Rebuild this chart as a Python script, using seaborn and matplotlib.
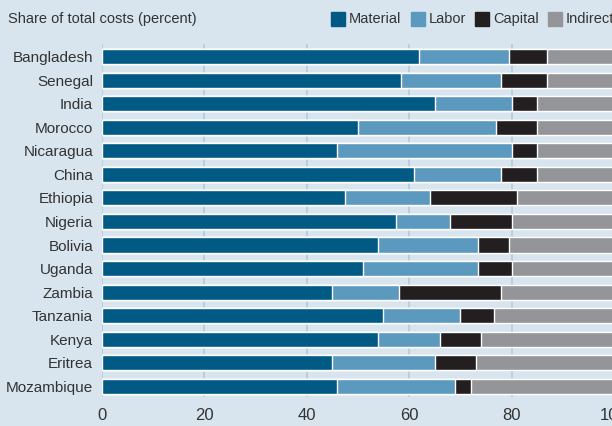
import matplotlib
matplotlib.use("Agg")
import matplotlib.pyplot as plt
from matplotlib.patches import Rectangle
import numpy as np
import seaborn as sns

countries = ["Bangladesh", "Senegal", "India", "Morocco", "Nicaragua", "China",
             "Ethiopia", "Nigeria", "Bolivia", "Uganda", "Zambia", "Tanzania",
             "Kenya", "Eritrea", "Mozambique"]
material = [62, 58.5, 65, 50, 46, 61, 47.5, 57.5, 54, 51, 45, 55, 54, 45, 46]
labor = [17.5, 19.5, 15, 27, 34, 17, 16.5, 10.5, 19.5, 22.5, 13, 15, 12, 20, 23]
capital = [7.5, 9, 5, 8, 5, 7, 17, 12, 6, 6.5, 20, 6.5, 8, 8, 3]
indirect = [100 - m - l - c for m, l, c in zip(material, labor, capital)]

names = ["Material", "Labor", "Capital", "Indirect"]
colors = ["#015a84", "#5b9abe", "#231f20", "#939598"]

bg = "#d8e5ee"
txt = "#333333"

sns.set_style("white")
plt.rcParams["font.family"] = ["Liberation Sans", "DejaVu Sans"]

W, H = 612, 426
fig = plt.figure(figsize=(W / 100, H / 100), dpi=100, facecolor=bg)
ax = fig.add_axes([101.5 / W, 1 - 397 / H, 512.5 / W, 353 / H])
ax.set_facecolor(bg)

# stacked bars: draw cumulative totals from the back
series = [material, labor, capital, indirect]
cum = np.cumsum(np.array(series), axis=0)
for i in range(3, -1, -1):
    sns.barplot(x=cum[i], y=countries, orient="h", color=colors[i],
                width=0.64, saturation=1, ax=ax, zorder=2)

ax.set_xlim(0, 100)
ax.set_ylim(14.45, -0.53)
ax.set_xticks([0, 20, 40, 60, 80, 100])
ax.xaxis.grid(True, color="#b8cfe1", lw=1.4, zorder=0)
ax.set_axisbelow(True)
for s in ax.spines.values():
    s.set_visible(False)
ax.tick_params(axis="both", length=0, colors=txt)
ax.tick_params(axis="y", labelsize=11, pad=6)
ax.tick_params(axis="x", labelsize=12, pad=8)
ax.set_xlabel("")
ax.set_ylabel("")

fig.text(8.5 / W, 1 - 19 / H, "Share of total costs (percent)", fontsize=10.5,
         color=txt, va="center", ha="left")

# legend drawn by hand so the squares sit where the reference has them
leg_x = [331, 411, 475, 548]
for x0, name, c in zip(leg_x, names, colors):
    fig.patches.append(Rectangle((x0 / W, 1 - 25.7 / H), 14 / W, 14 / H,
                                 transform=fig.transFigure, color=c))
    fig.text((x0 + 18) / W, 1 - 19 / H, name, fontsize=10.5, color=txt,
             va="center", ha="left")

fig.savefig("out.png", dpi=100, facecolor=bg)
